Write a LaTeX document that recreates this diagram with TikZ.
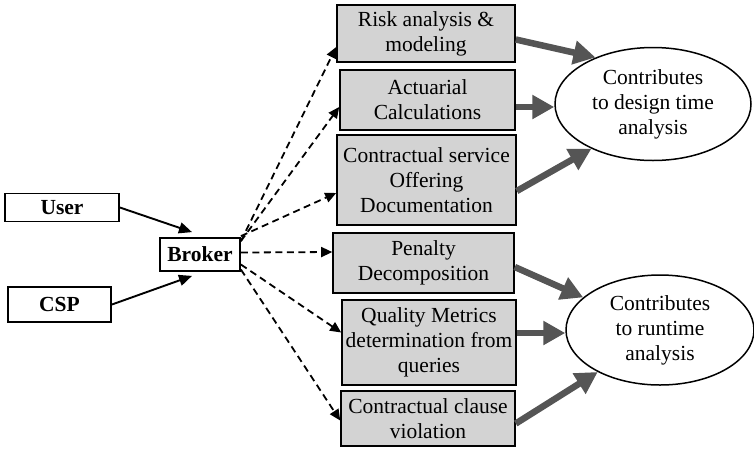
\documentclass[tikz,border=0pt]{standalone}
\usepackage{fontspec}
\setmainfont{Liberation Serif}
\usetikzlibrary{arrows.meta,shapes.geometric}
\definecolor{boxgray}{HTML}{D3D3D3}
\definecolor{flowgray}{HTML}{555555}
\newcommand{\labelfont}{\fontsize{21.5}{25}\selectfont}
\tikzset{
  actor/.style={draw=black,line width=1.8pt,fill=white,font=\labelfont\bfseries,inner sep=0pt},
  task/.style={draw=black,line width=1.6pt,fill=boxgray,align=center,inner sep=0pt,font=\labelfont},
  goal/.style={ellipse,draw=black,line width=1.5pt,fill=white,align=center,inner sep=0pt,font=\labelfont},
  feed/.style={line width=1.9pt,-{Triangle[length=13pt,width=11pt]}},
  query/.style={line width=1.8pt,dash pattern=on 7pt off 4.5pt,-{Triangle[length=11pt,width=10pt]}},
  flow/.style={draw=flowgray,line width=6.5pt,-{Triangle[length=22pt,width=23pt]}}
}
\begin{document}
\begin{tikzpicture}[x=1pt,y=-1pt]
\useasboundingbox (0,0) rectangle (754,448);

% left-hand actors and the broker
\node[actor,minimum width=114pt,minimum height=28pt] (user) at (62,207.5) {User};
\node[actor,minimum width=103pt,minimum height=35pt] (csp) at (59.5,304.5) {CSP};
\node[actor,minimum width=80pt,minimum height=33pt] (broker) at (200,254.5) {Broker};

% broker services
\node[task,minimum width=178pt,minimum height=57pt] (risk) at (426,33.5) {Risk analysis \&\\modeling};
\node[task,minimum width=175pt,minimum height=60pt] (act) at (427.5,100) {Actuarial\\Calculations};
\node[task,minimum width=179pt,minimum height=90pt] (cso) at (426.5,180) {Contractual service\\Offering\\Documentation};
\node[task,minimum width=181pt,minimum height=60pt] (pen) at (423.5,263) {Penalty\\Decomposition};
\node[task,minimum width=174pt,minimum height=85pt] (qual) at (429,342.5) {Quality Metrics\\determination from\\queries};
\node[task,minimum width=174pt,minimum height=55pt] (cl) at (428,418.5) {Contractual clause\\violation};

% outcomes
\node[goal,minimum width=196pt,minimum height=113pt] (design) at (653,104) {Contributes\\to design time\\analysis};
\node[goal,minimum width=188pt,minimum height=110pt] (runtime) at (660,330) {Contributes\\to runtime\\analysis};

% inputs to the broker
\draw[feed] (user.east) -- ([xshift=-8pt,yshift=5pt]broker.north);
\draw[feed] (csp.east) -- ([xshift=-8pt,yshift=-4pt]broker.south);

% broker queries to the services
\draw[query] ([yshift=-4pt]broker.north east) -- ([yshift=-13.5pt]risk.west);
\draw[query] ([yshift=-4pt]broker.north east) -- ([yshift=-7pt]act.west);
\draw[query] ([yshift=1pt]broker.north east) -- ([yshift=-13pt]cso.west);
\draw[query] ([yshift=2pt]broker.east) -- ([yshift=11pt]pen.west);
\draw[query] ([yshift=-10pt]broker.east) -- ([yshift=10pt]qual.west);
\draw[query] ([yshift=-15pt]broker.east) -- ([yshift=-2pt]cl.west);

% contributions to the analyses
\draw[flow] ([yshift=-6pt]risk.east) -- (design.141);
\draw[flow] ([yshift=-3pt]act.east |- design.west) -- ([yshift=-3pt]design.west);
\draw[flow] ([yshift=-11pt]cso.east) -- (design.216);
\draw[flow] ([yshift=-4pt]pen.east) -- (runtime.157);
\draw[flow] ([yshift=-3pt]qual.east |- runtime.west) -- ([yshift=-3pt]runtime.west);
\draw[flow] ([yshift=-5pt]cl.east) -- (runtime.214);
\end{tikzpicture}
\end{document}
